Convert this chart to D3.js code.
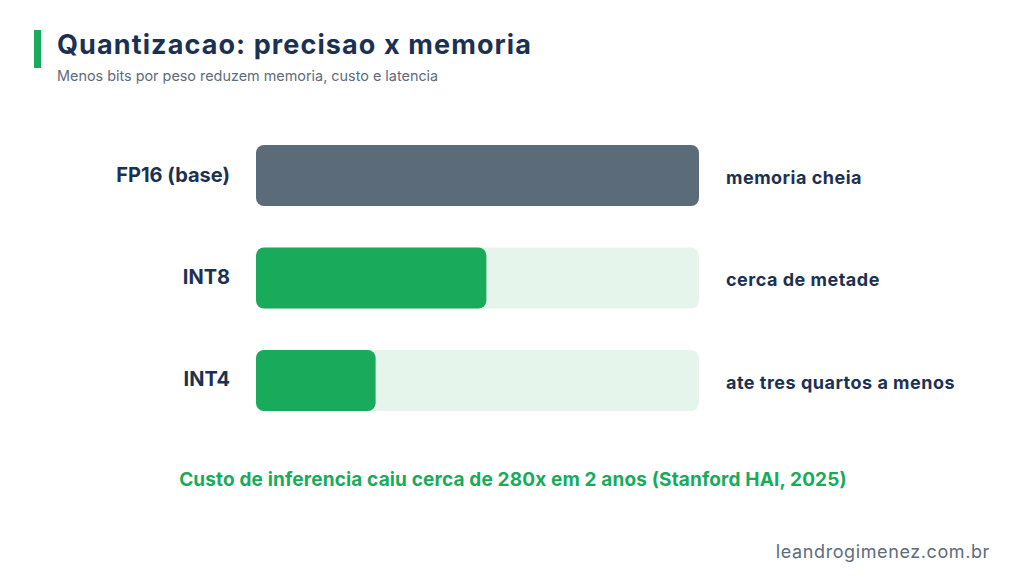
<!DOCTYPE html>
<html lang="pt">
<head>
    <meta charset="UTF-8">
    <title>Quantizacao</title>
    <script src="https://cdn.jsdelivr.net/npm/d3@7/dist/d3.min.js"></script>
    <style>
        body { margin: 0; background: #fff; }
        text { font-family: "Inter", "Noto Sans", sans-serif; }
    </style>
</head>
<body>
    <div id="chart"></div>
    <script>
        // data
        const categories = ["FP16 (base)", "INT8", "INT4"];
        const memoryPct = [100, 52, 27];
        const notes = ["memoria cheia", "cerca de metade", "ate tres quartos a menos"];

        const width = 1024, height = 580;
        const navy = "#1c3152";
        const green = "#1aaa5b";

        const svg = d3.select("#chart").append("svg")
            .attr("width", width)
            .attr("height", height);

        // title block
        svg.append("rect")
            .attr("x", 34).attr("y", 30)
            .attr("width", 7).attr("height", 38)
            .attr("fill", green);

        svg.append("text")
            .attr("x", 57).attr("y", 54)
            .attr("font-size", 27).attr("font-weight", 700)
            .attr("letter-spacing", 1.1)
            .attr("fill", navy)
            .text("Quantizacao: precisao x memoria");

        svg.append("text")
            .attr("x", 57).attr("y", 81)
            .attr("font-size", 14.4)
            .attr("fill", "#5e6c7c")
            .text("Menos bits por peso reduzem memoria, custo e latencia");

        // scales
        const x = d3.scaleLinear().domain([0, 100]).range([256, 699]);
        const y = d3.scaleBand()
            .domain(categories)
            .range([103.5, 452.5])
            .paddingInner(0.405)
            .paddingOuter(0.405);

        const rows = categories.map((c, i) => ({ cat: c, value: memoryPct[i], note: notes[i], base: i === 0 }));

        const g = svg.append("g");

        // track
        g.selectAll(".track")
            .data(rows.filter(d => !d.base))
            .join("rect")
            .attr("class", "track")
            .attr("x", x(0))
            .attr("y", d => y(d.cat))
            .attr("width", x(100) - x(0))
            .attr("height", y.bandwidth())
            .attr("rx", 8)
            .attr("fill", "#e5f5ec");

        // bars
        g.selectAll(".bar")
            .data(rows)
            .join("rect")
            .attr("class", "bar")
            .attr("x", x(0))
            .attr("y", d => y(d.cat))
            .attr("width", d => x(d.value) - x(0))
            .attr("height", y.bandwidth())
            .attr("rx", 8)
            .attr("fill", d => d.base ? "#5c6b7a" : green);

        // category labels
        g.selectAll(".cat")
            .data(rows)
            .join("text")
            .attr("class", "cat")
            .attr("x", 230)
            .attr("y", d => y(d.cat) + y.bandwidth() / 2 - 1)
            .attr("dy", "0.35em")
            .attr("text-anchor", "end")
            .attr("font-size", 20).attr("font-weight", 700)
            .attr("fill", navy)
            .text(d => d.cat);

        // notes on the right
        g.selectAll(".note")
            .data(rows)
            .join("text")
            .attr("class", "note")
            .attr("x", 726)
            .attr("y", d => y(d.cat) + y.bandwidth() / 2 + 2)
            .attr("dy", "0.35em")
            .attr("font-size", 18).attr("font-weight", 700)
            .attr("letter-spacing", 0.5)
            .attr("fill", navy)
            .text(d => d.note);

        // footnote
        svg.append("text")
            .attr("x", 513).attr("y", 486)
            .attr("text-anchor", "middle")
            .attr("font-size", 19).attr("font-weight", 700)
            .attr("letter-spacing", 0.15)
            .attr("fill", green)
            .text("Custo de inferencia caiu cerca de 280x em 2 anos (Stanford HAI, 2025)");

        svg.append("text")
            .attr("x", 990).attr("y", 558)
            .attr("text-anchor", "end")
            .attr("font-size", 18)
            .attr("letter-spacing", 0.6)
            .attr("fill", "#5e6c7c")
            .text("leandrogimenez.com.br");
    </script>
</body>
</html>
